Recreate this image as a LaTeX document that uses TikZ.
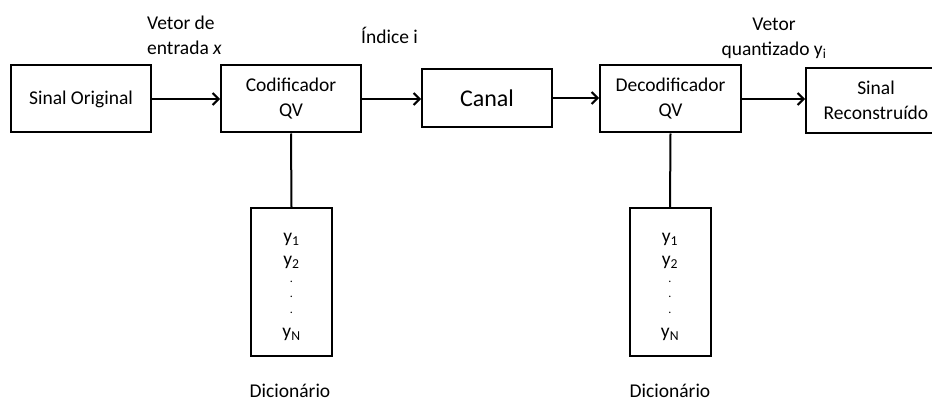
\documentclass[tikz,border=0pt]{standalone}
\usepackage{fontspec}
\setmainfont{Carlito}
\usetikzlibrary{arrows.meta}
\begin{document}
\begin{tikzpicture}[x=1pt,y=-1pt,
  blk/.style={draw,line width=2pt,minimum height=67pt,align=center,font=\fontsize{19.5}{25}\selectfont,inner sep=0pt},
  dict/.style={draw,line width=2pt,minimum width=81pt,minimum height=148pt,inner sep=0pt},
  lbl/.style={align=center,font=\fontsize{19.5}{25}\selectfont,inner sep=0pt},
  dot/.style={font=\fontsize{12}{14}\selectfont,inner sep=0pt},
  flow/.style={line width=2pt,-{Straight Barb[length=6pt,width=12pt,line width=2pt]}},
  link/.style={line width=2pt}]
\useasboundingbox (0,0) rectangle (932,401);
% main chain of blocks
\node[blk,minimum width=140pt] (src) at (81,99) {Sinal Original};
\node[blk,minimum width=140pt] (enc) at (291,99) {Codificador\\QV};
\node[blk,minimum width=130pt,minimum height=58pt,font=\fontsize{24}{29}\selectfont] (ch) at (487,98) {Canal};
\node[blk,minimum width=141pt] (dec) at (670.5,99) {Decodificador\\QV};
\node[blk,minimum width=140pt,minimum height=65pt,anchor=west] (out) at (805,100.5) {Sinal\\Reconstruído};
% codebooks
\node[dict] (d1) at (291.5,282) {};
\node[dict] (d2) at (670,282) {};
\foreach \d in {d1,d2}{
  \node[lbl] at ([yshift=-32pt]\d.north) {y\textsubscript{1}};
  \node[lbl] at ([yshift=-55pt]\d.north) {y\textsubscript{2}};
  \node[dot] at ([yshift=-75pt]\d.north) {.};
  \node[dot] at ([yshift=-90pt]\d.north) {.};
  \node[dot] at ([yshift=-106pt]\d.north) {.};
  \node[lbl] at ([yshift=-127pt]\d.north) {y\textsubscript{N}};
}
\node[lbl] (dl1) at (290,391) {Dicionário};
\node[lbl] (dl2) at (670,391) {Dicionário};
% connectors
\draw[flow] (src.east) -- (enc.west);
\draw[flow] (enc.east) -- (enc.east -| ch.west);
\draw[flow] (ch.east) -- (ch.east -| dec.west);
\draw[flow] (dec.east) -- (dec.east -| out.west);
\draw[link] (enc.south) -- (d1.north);
\draw[link] (dec.south) -- (d2.north);
% signal labels
\node[lbl,align=left,anchor=west] (lx) at (147,35) {Vetor de\\entrada \textit{x}};
\node[lbl,anchor=west] (li) at (361,35) {Índice i};
\node[lbl] (ly) at (774,38) {Vetor\\quantizado y\textsubscript{i}};
\end{tikzpicture}
\end{document}
